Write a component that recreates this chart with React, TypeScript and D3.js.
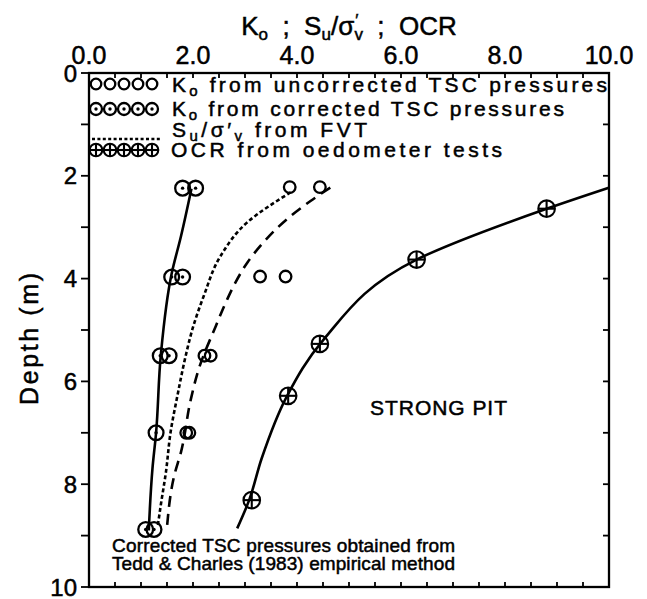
import * as d3 from "d3";

// values (value on top axis, depth in m)
const valueTicks = [0, 2, 4, 6, 8, 10];
const depthTicks = [0, 2, 4, 6, 8, 10];

// K0 from uncorrected TSC pressures (plain circles)
const koUncorrected: [number, number][] = [
  [3.86, 2.22], [4.44, 2.22],
  [3.29, 3.96], [3.78, 3.96],
  [2.22, 5.5], [2.34, 5.5],
  [1.87, 7.0], [1.93, 7.0],
];

// K0 from corrected TSC pressures (circles with a dot)
const koCorrected: [number, number][] = [
  [1.8, 2.24], [2.05, 2.24],
  [1.59, 3.97], [1.8, 3.97],
  [1.37, 5.5], [1.54, 5.5],
  [1.29, 7.0],
  [1.09, 8.88], [1.25, 8.88],
];

// OCR from oedometer tests (circles with a cross)
const ocrPoints: [number, number][] = [
  [8.8, 2.64], [6.3, 3.63], [4.44, 5.27], [3.83, 6.28], [3.13, 8.31],
];

// fitted lines
const koTrend: [number, number][] = [
  [1.97, 2.25], [1.77, 3.17], [1.59, 3.9], [1.38, 5.5], [1.29, 7.0], [1.22, 7.7], [1.15, 8.9],
];
const fvtTrend: [number, number][] = [
  [3.88, 2.32], [3.05, 2.9], [2.53, 3.56], [2.21, 4.33], [1.99, 4.98], [1.86, 5.5],
  [1.7, 6.28], [1.57, 6.98], [1.48, 7.76], [1.38, 8.41], [1.32, 8.83],
];
const uncorrTrend: [number, number][] = [
  [4.64, 2.23], [4.26, 2.49], [3.81, 2.84], [3.36, 3.29], [3.05, 3.68], [2.82, 4.07],
  [2.66, 4.4], [2.44, 4.92], [2.11, 5.76], [1.96, 6.34], [1.77, 7.37], [1.64, 7.83], [1.5, 8.83],
];
const ocrTrend: [number, number][] = [
  [10.0, 2.23], [8.8, 2.64], [6.3, 3.63], [4.5, 5.2], [3.8, 6.3], [3.32, 7.5], [3.08, 8.31], [2.85, 8.86],
];

const W = 647,
  H = 599;
const font = "'Liberation Sans', Arial, sans-serif";

export default function App() {
  const x = d3.scaleLinear().domain([0, 10]).range([89, 609]);
  const y = d3.scaleLinear().domain([0, 10]).range([73, 587]);

  const line = d3
    .line<[number, number]>()
    .x((d) => x(d[0]))
    .y((d) => y(d[1]))
    .curve(d3.curveMonotoneY);

  const halfTicks = d3.range(0, 10.001, 0.5);
  const unitTicks = d3.range(0, 10.001, 1);

  const plainCircle = (cx: number, cy: number, r: number, k: string) => (
    <circle key={k} cx={cx} cy={cy} r={r} fill="none" stroke="#000" strokeWidth={2.3} />
  );
  const dotCircle = (cx: number, cy: number, r: number, k: string) => (
    <g key={k}>
      <circle cx={cx} cy={cy} r={r} fill="none" stroke="#000" strokeWidth={2.3} />
      <circle cx={cx} cy={cy} r={1.7} fill="#000" />
    </g>
  );
  const plusCircle = (cx: number, cy: number, r: number, k: string) => (
    <g key={k} stroke="#000" strokeWidth={2.1}>
      <circle cx={cx} cy={cy} r={r} fill="none" />
      <line x1={cx - r} x2={cx + r} y1={cy} y2={cy} />
      <line x1={cx} x2={cx} y1={cy - r} y2={cy + r} />
    </g>
  );

  const legendX = [96, 110, 124, 138, 152];
  const txt = { stroke: "#000", strokeWidth: 0.5 };

  return (
    <svg
      width={W}
      height={H}
      viewBox={`0 0 ${W} ${H}`}
      style={{ position: "absolute", left: 0, top: 0, background: "#fff" }}
      fontFamily={font}
    >
      {/* frame */}
      <rect x={x(0)} y={y(0)} width={x(10) - x(0)} height={y(10) - y(0)} fill="none" stroke="#000" strokeWidth={2.3} />

      {/* top and bottom ticks */}
      {halfTicks.map((t) => (
        <g key={"tx" + t} stroke="#000" strokeWidth={1.8}>
          <line x1={x(t)} x2={x(t)} y1={y(0)} y2={y(0) + 5} />
          <line x1={x(t)} x2={x(t)} y1={y(10)} y2={y(10) - 5} />
        </g>
      ))}
      {/* left and right ticks */}
      {unitTicks.map((t) => (
        <g key={"ty" + t} stroke="#000" strokeWidth={1.8}>
          <line x1={x(0) - 8} x2={x(0)} y1={y(t)} y2={y(t)} />
          <line x1={x(10) - 6} x2={x(10)} y1={y(t)} y2={y(t)} />
        </g>
      ))}

      {/* top axis labels */}
      {valueTicks.map((t) => (
        <text key={"lx" + t} x={x(t)} y={64} textAnchor="middle" fontSize={25} {...txt}>
          {t.toFixed(1)}
        </text>
      ))}
      {/* left axis labels */}
      {depthTicks.map((t) => (
        <text key={"ly" + t} x={77} y={y(t)} dy="0.36em" textAnchor="end" fontSize={24} {...txt}>
          {t}
        </text>
      ))}

      {/* title */}
      <text x={349} y={35} textAnchor="middle" fontSize={26} style={{ whiteSpace: "pre" }} {...txt}>
        K
        <tspan fontSize={17} dy={5}>o</tspan>
        <tspan dy={-5}>{"  ;  S"}</tspan>
        <tspan fontSize={17} dy={5}>u</tspan>
        <tspan dy={-5}>/σ</tspan>
        <tspan fontSize={17} dx={1} dy={-9}>′</tspan>
        <tspan fontSize={17} dx={-4} dy={14}>v</tspan>
        <tspan dy={-5}>{"  ;  OCR"}</tspan>
      </text>

      {/* y label */}
      <text
        transform="translate(38,339) rotate(-90)"
        textAnchor="middle"
        fontSize={25}
        textLength={132}
        lengthAdjust="spacing"
        {...txt}
      >
        Depth (m)
      </text>

      {/* legend */}
      {legendX.map((cx, i) => plainCircle(cx, 84, 5.3, "lg1" + i))}
      {legendX.map((cx, i) => dotCircle(cx, 109, 6, "lg2" + i))}
      <line x1={92} x2={160} y1={139} y2={139} stroke="#000" strokeWidth={2.3} strokeDasharray="3,2.4" />
      {legendX.map((cx, i) => plusCircle(cx, 150, 6.3, "lg4" + i))}

      <text x={172} y={92} fontSize={21} textLength={435} lengthAdjust="spacing" {...txt}>
        K<tspan fontSize={15} dy={4}>o</tspan>
        <tspan dy={-4}> from uncorrected TSC pressures</tspan>
      </text>
      <text x={172} y={116} fontSize={21} textLength={392} lengthAdjust="spacing" {...txt}>
        K<tspan fontSize={15} dy={4}>o</tspan>
        <tspan dy={-4}> from corrected TSC pressures</tspan>
      </text>
      <text x={172} y={137} fontSize={21} textLength={195} lengthAdjust="spacing" {...txt}>
        S<tspan fontSize={15} dy={4}>u</tspan>
        <tspan dy={-4}>/σ′</tspan>
        <tspan fontSize={15} dy={4}>v</tspan>
        <tspan dy={-4}> from FVT</tspan>
      </text>
      <text x={171} y={157} fontSize={21} textLength={331} lengthAdjust="spacing" {...txt}>
        OCR from oedometer tests
      </text>

      {/* curves */}
      <path d={line(koTrend) ?? ""} fill="none" stroke="#000" strokeWidth={2.6} />
      <path d={line(fvtTrend) ?? ""} fill="none" stroke="#000" strokeWidth={2.6} strokeDasharray="4,2.6" />
      <path d={line(uncorrTrend) ?? ""} fill="none" stroke="#000" strokeWidth={2.6} strokeDasharray="11,7" />
      <path d={line(ocrTrend) ?? ""} fill="none" stroke="#000" strokeWidth={2.6} />

      {/* points */}
      {koUncorrected.map((d, i) => plainCircle(x(d[0]), y(d[1]), 5.8, "u" + i))}
      {koCorrected.map((d, i) => dotCircle(x(d[0]), y(d[1]), 7.4, "c" + i))}
      {ocrPoints.map((d, i) => plusCircle(x(d[0]), y(d[1]), 8.3, "o" + i))}

      {/* annotations */}
      <text x={370} y={415} fontSize={21} textLength={137} lengthAdjust="spacing" {...txt}>
        STRONG PIT
      </text>
      <text x={112} y={552} fontSize={19} textLength={343} lengthAdjust="spacing" {...txt}>
        Corrected TSC pressures obtained from
      </text>
      <text x={112} y={570} fontSize={19} textLength={343} lengthAdjust="spacing" {...txt}>
        Tedd &amp; Charles (1983) empirical method
      </text>
    </svg>
  );
}
